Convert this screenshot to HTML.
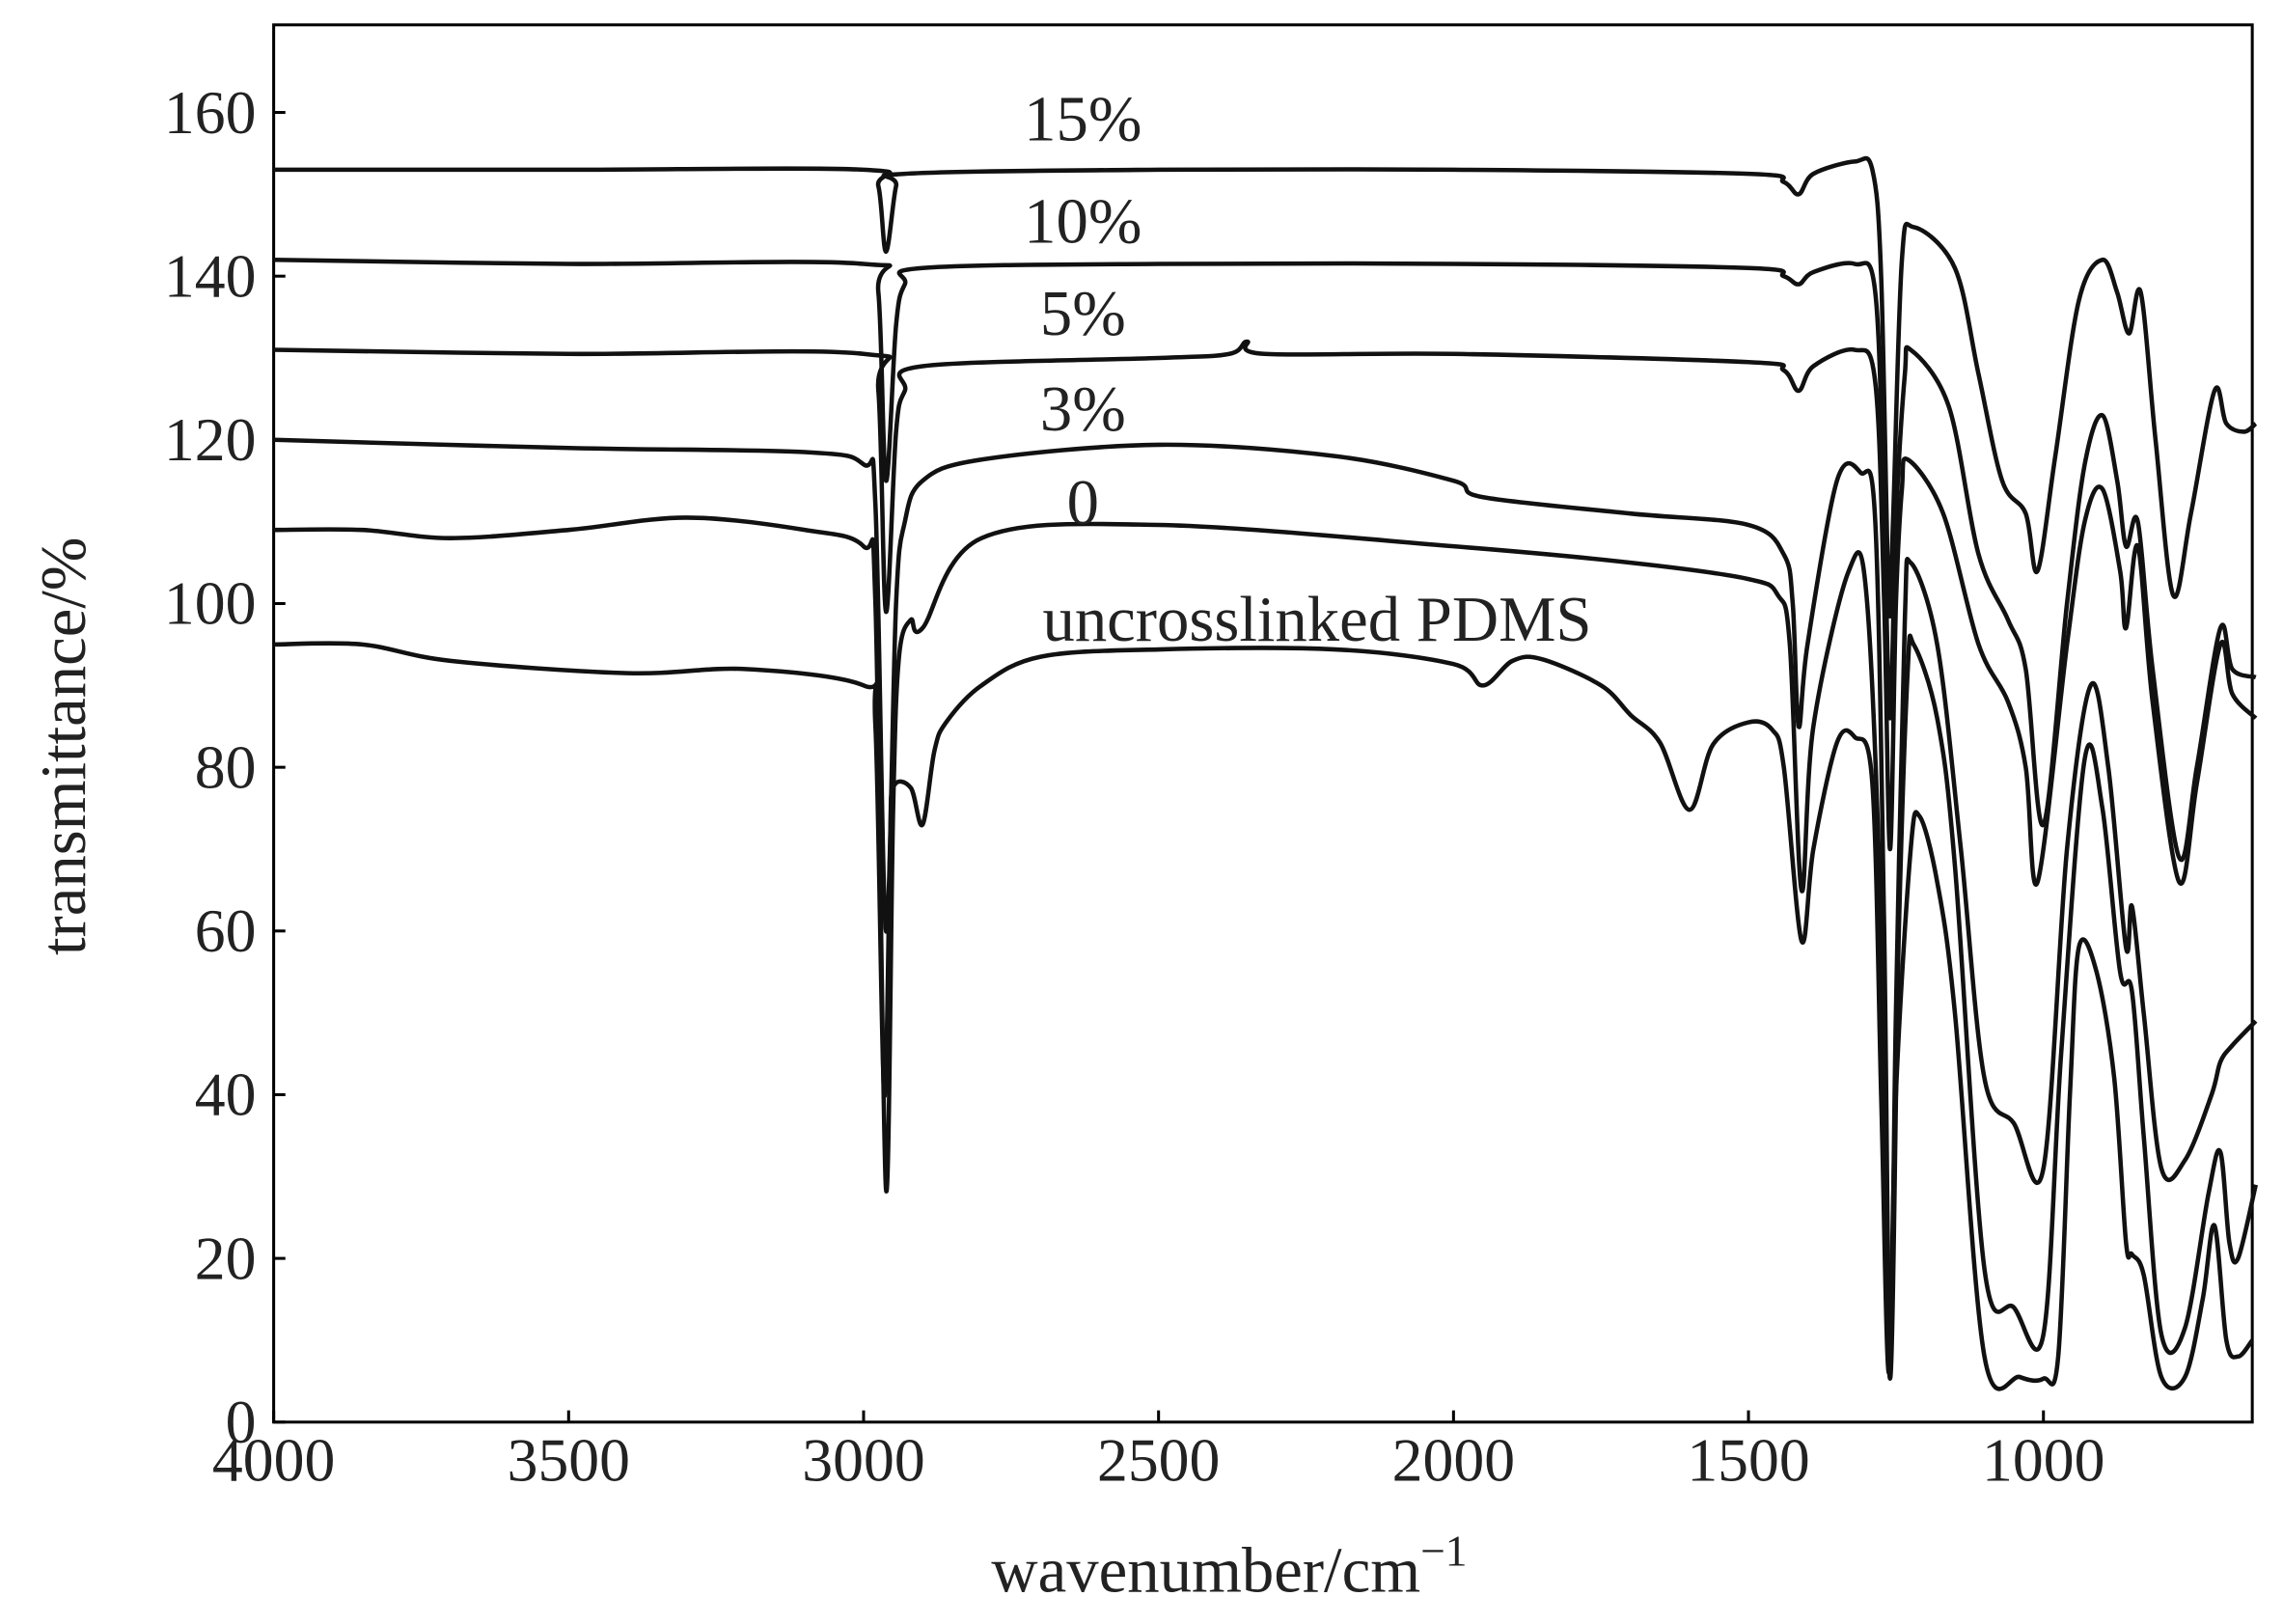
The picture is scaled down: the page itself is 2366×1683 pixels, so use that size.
<!DOCTYPE html>
<html><head><meta charset="utf-8"><style>html,body{margin:0;padding:0;background:#fff}svg{display:block}</style></head>
<body>
<svg id="chart" width="2366" height="1683" viewBox="0 0 1560 1110" preserveAspectRatio="none" font-family="Liberation Serif, serif">
<g id="axes"></g>
<g id="series"></g>
<g id="labels"></g>
</svg>
<script>
const xTicks=[4000,3500,3000,2500,2000,1500,1000];
const yTicks=[0,20,40,60,80,100,120,140,160];
const seriesNames=["15%","10%","5%","3%","0","uncrosslinked PDMS"];
const s15=[[4000,153],[3500,153],[3000,153],[2975,151],[2962,143],[2945,151],[2930,152.5],[2500,153],[2000,153],[1500,152.5],[1440,151.5],[1415,150],[1390,152.5],[1320,154],[1290,153],[1275,140],[1262,100],[1255,110],[1240,142],[1220,146],[1150,141],[1110,128],[1070,115],[1030,111],[1010,104],[980,118],[940,137],[900,142],[875,138],[855,133],[835,138],[810,120],[780,101],[750,111],[710,126],[690,122],[660,121],[640,122]];
const s10=[[4000,142],[3500,141.5],[3000,141.5],[2975,138],[2962,115],[2945,134],[2930,139],[2900,141],[2500,141.5],[2000,141.5],[1500,141],[1440,140],[1415,139],[1390,140.5],[1320,141.5],[1285,138],[1270,110],[1260,86],[1250,110],[1235,128],[1225,131],[1160,124],[1110,106],[1060,98],[1030,92],[1000,73],[960,100],[930,117],[900,123],[875,115],[860,107],[840,110],[815,92],[770,69],[740,80],[700,97],[680,92],[640,91]];
const s5=[[4000,131],[3500,130.5],[3000,130.5],[2975,126],[2962,99],[2945,121],[2930,126],[2900,129],[2500,130],[2380,130.5],[2350,132],[2320,130.5],[2000,130.5],[1500,129.5],[1440,128.5],[1415,126],[1390,129],[1320,131],[1285,127],[1270,100],[1260,70],[1250,100],[1240,114],[1230,117.6],[1170,111],[1110,95],[1060,88],[1030,80],[1010,66],[960,95],[930,110],[900,114],[870,104],[860,97],[840,107],[815,88],[770,66],[740,78],[700,95],[680,89],[640,86]];
const s3=[[4000,120],[3500,119],[3100,118.5],[3000,117],[2980,112],[2962,60],[2945,100],[2930,110],[2900,115],[2800,117.6],[2500,119.4],[2200,118],[2000,115],[1950,113],[1700,111],[1500,109.6],[1440,106],[1425,100],[1415,85],[1400,95],[1350,115],[1310,116],[1285,110],[1270,60],[1260,6],[1250,50],[1235,98],[1225,105],[1180,95],[1140,70],[1100,42],[1050,36.5],[1000,31],[960,70],[920,90],[890,80],[860,58],[850,63],[830,50],[800,31],[760,32],[715,40],[700,44],[680,46],[640,49]];
const s0=[[4000,109],[3850,109],[3700,108],[3500,109],[3300,110.5],[3100,109],[3000,107],[2980,100],[2962,28.5],[2950,75],[2940,93.5],[2920,98],[2900,97],[2800,108],[2500,109.6],[2000,107],[1700,105],[1500,103],[1450,101],[1430,95],[1410,65],[1390,85],[1330,104],[1300,101],[1275,60],[1260,5.3],[1245,60],[1230,92],[1220,95],[1180,86],[1150,68],[1100,18.7],[1050,14],[1000,10.7],[970,45],[930,81],[900,75],[870,55],[850,52.6],[830,35],[800,10.7],[760,11.5],[720,28],[700,33],[685,22],[670,20],[640,29]];
const sU=[[4000,95],[3850,95],[3700,93],[3400,91.5],[3200,92],[3000,90],[2980,85],[2965,40],[2955,70],[2950,77.5],[2920,77.5],[2900,73],[2880,82],[2860,85.5],[2800,90],[2700,93.5],[2500,94.4],[2200,94.4],[2000,92.6],[1950,90],[1900,93],[1850,93.2],[1750,90],[1700,86.4],[1650,83],[1600,74.8],[1560,82.8],[1500,85.5],[1460,84.6],[1440,80],[1410,58.8],[1390,70],[1350,83],[1320,83.7],[1290,78],[1275,40],[1262,6],[1250,40],[1225,70],[1210,74],[1180,66],[1150,50],[1100,8],[1040,5.5],[1000,5.3],[975,8],[955,40],[940,58],[910,55],[880,42],[860,22],[850,20.5],[830,18],[800,5.5],[760,5.5],[730,15],[710,24],[690,10],[670,8],[646,10]];
const allSeries=[s15,s10,s5,s3,s0,sU];
const labelPos=[[740,80,"middle"],[740,150,"middle"],[740,213,"middle"],[740,278,"middle"],[740,342,"middle"],[900,422,"middle"]];
const L=187,R=1539,T=17,B=972,XMIN=646,XMAX=4000,YMIN=0,YMAX=170.7;
const xs=v=>L+(XMAX-v)/(XMAX-XMIN)*(R-L);
const ys=v=>B-(v-YMIN)/(YMAX-YMIN)*(B-T);
const NS="http://www.w3.org/2000/svg";
function mk(tag,attrs,parent){const e=document.createElementNS(NS,tag);for(const k in attrs)e.setAttribute(k,attrs[k]);parent.appendChild(e);return e;}
const ax=document.getElementById('axes');
const frame=mk('rect',{x:L,y:T,width:R-L,height:B-T,fill:'none',stroke:'#000','stroke-width':2},ax);


xTicks.forEach(t=>{const x=xs(t);
 const ln=mk('line',{x1:x,y1:B,x2:x,y2:B-8,stroke:'#000','stroke-width':2},ax);
 
 
 const tx=mk('text',{x:x,y:B+40,'font-size':42,'text-anchor':'middle',fill:'#222'},ax);tx.textContent=t;
 
 
});
yTicks.forEach(t=>{const y=ys(t);
 const ln=mk('line',{x1:L,y1:y,x2:L+8,y2:y,stroke:'#000','stroke-width':2},ax);
 
 
 const tx=mk('text',{x:L-12,y:y+14,'font-size':42,'text-anchor':'end',fill:'#222'},ax);tx.textContent=t;
 
 
});
const xt=mk('text',{x:840,y:1088,'font-size':44,'text-anchor':'middle',fill:'#222'},ax);
xt.innerHTML='wavenumber/cm<tspan dy="-18" font-size="30">−1</tspan>';


const yt=mk('text',{x:0,y:0,'font-size':44,'text-anchor':'middle',fill:'#222',transform:'translate(58,510) rotate(-90)'},ax);
yt.textContent='transmittance/%';


function path(pts){const p=pts.map(d=>[xs(d[0]),ys(d[1])]);let s='M'+p[0][0].toFixed(1)+','+p[0][1].toFixed(1);
 for(let i=0;i<p.length-1;i++){const p0=p[Math.max(0,i-1)],p1=p[i],p2=p[i+1],p3=p[Math.min(p.length-1,i+2)];
  const c1=[p1[0]+(p2[0]-p0[0])/6,p1[1]+(p2[1]-p0[1])/6],c2=[p2[0]-(p3[0]-p1[0])/6,p2[1]-(p3[1]-p1[1])/6];
  s+=`C${c1[0].toFixed(1)},${c1[1].toFixed(1)} ${c2[0].toFixed(1)},${c2[1].toFixed(1)} ${p2[0].toFixed(1)},${p2[1].toFixed(1)}`;}
 return s;}
const sg=document.getElementById('series'),lg=document.getElementById('labels');
allSeries.forEach((d,i)=>{
 const pe=mk('path',{d:path(d),fill:'none',stroke:'#111','stroke-width':3,'stroke-linejoin':'round'},sg);
 
 
 const lp=labelPos[i];
 const tx=mk('text',{x:lp[0],y:lp[1]+16,'font-size':44,'text-anchor':lp[2],fill:'#222'},lg);tx.textContent=seriesNames[i];
 
 
});
</script>
</body></html>
